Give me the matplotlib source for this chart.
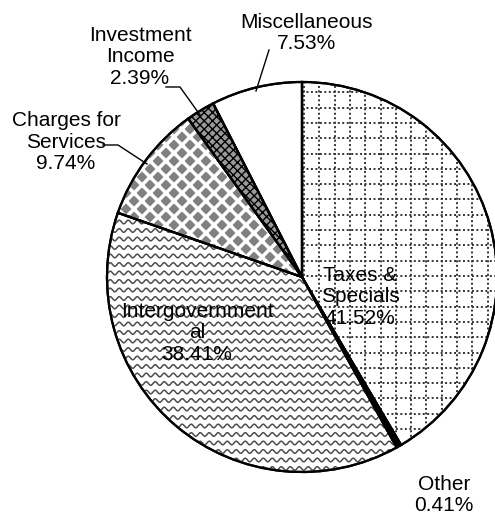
import numpy as np
import matplotlib
matplotlib.use("Agg")
import matplotlib.pyplot as plt
from matplotlib.patches import PathPatch
from matplotlib.collections import PolyCollection

plt.rcParams['font.family'] = ['Liberation Sans', 'DejaVu Sans']

# === Data ===
labels = ["Taxes &\nSpecials", "Other", "Intergovernment\nal",
          "Charges for\nServices", "Investment\nIncome", "Miscellaneous"]
shares = [41.52, 0.41, 38.41, 9.74, 2.39, 7.53]

# === Figure in pixel units ===
W, H = 495, 519
fig = plt.figure(figsize=(W / 100, H / 100), dpi=100)
ax = fig.add_axes([0, 0, 1, 1])

cx, cy, r = 302, H - 277, 195

face = ['white', 'black', 'white', 'white', '0.6', 'white']
hatch = [None, None, None, None, 'xxxx', None]
wedges, _ = ax.pie(shares, center=(cx, cy), radius=r, startangle=90,
                   counterclock=False, colors=face, frame=True,
                   wedgeprops=dict(edgecolor='black', linewidth=1.6))
for w, h in zip(wedges, hatch):
    w.set_zorder(1)
    if h:
        w.set_hatch(h)
ax.set_xlim(0, W)
ax.set_ylim(0, H)
ax.set_aspect('equal')
ax.axis('off')

x0, x1 = cx - r - 5, cx + r + 5
y0, y1 = cy - r - 5, cy + r + 5

# Taxes: dotted grid
w = wedges[0]
dots = (0, (1, 1.3))
for gx in np.arange(cx + 2, x1, 15.3):
    ln, = ax.plot([gx, gx], [y0, y1], color='0.2', lw=1.4, ls=dots, zorder=1.5)
    ln.set_clip_path(w)
for gy in np.arange(cy + 1, y1, 15.3).tolist() + np.arange(cy + 1 - 15.3, y0, -15.3).tolist():
    ln, = ax.plot([cx, x1], [gy, gy], color='0.2', lw=1.4, ls=dots, zorder=1.5)
    ln.set_clip_path(w)

# Intergovernmental: wavy lines
w = wedges[2]
xs = np.linspace(x0, cx + 120, 1200)
for gy in np.arange(y0, cy + 130, 8.5):
    ln, = ax.plot(xs, gy + 1.8 * np.sin(2 * np.pi * xs / 9.0), color='0.3',
                  lw=1.1, zorder=1.5)
    ln.set_clip_path(w)

# Charges: gray diamonds
w = wedges[3]
polys = []
step, half = 16.0, 5.5
for i, gy in enumerate(np.arange(cy - 20, y1, step / 2)):
    off = (i % 2) * step / 2
    for gx in np.arange(x0 + off, cx + 10, step):
        polys.append([(gx - half, gy), (gx, gy + half), (gx + half, gy), (gx, gy - half)])
pc = PolyCollection(polys, facecolor='0.5', edgecolor='none', zorder=1.5)
pc.set_clip_path(w)
ax.add_collection(pc)

# redraw outlines on top of patterns
for w in wedges:
    ax.add_patch(PathPatch(w.get_path(), transform=w.get_transform(),
                           fill=False, edgecolor='black', lw=1.6, zorder=2))

fs = 15
def lab(i, x, y):
    ax.text(x, H - y, labels[i] + "\n" + f"{shares[i]:.2f}%", ha='center',
            va='center', fontsize=fs, linespacing=1.15, zorder=3)

# Labels inside slices
lab(0, 360, 297)
lab(2, 197, 333)

# Outside labels with leader lines
lab(1, 444, 495)
lab(3, 66, 142)
ax.plot([103, 118, 147], [H - 145, H - 145, H - 164], color='black', lw=1)
lab(4, 140, 57)
ax.plot([166, 180, 200], [H - 87, H - 87, H - 115], color='black', lw=1)
lab(5, 306, 33)
ax.plot([269, 256], [H - 50, H - 91], color='black', lw=1)

fig.savefig("out.png", dpi=100)
